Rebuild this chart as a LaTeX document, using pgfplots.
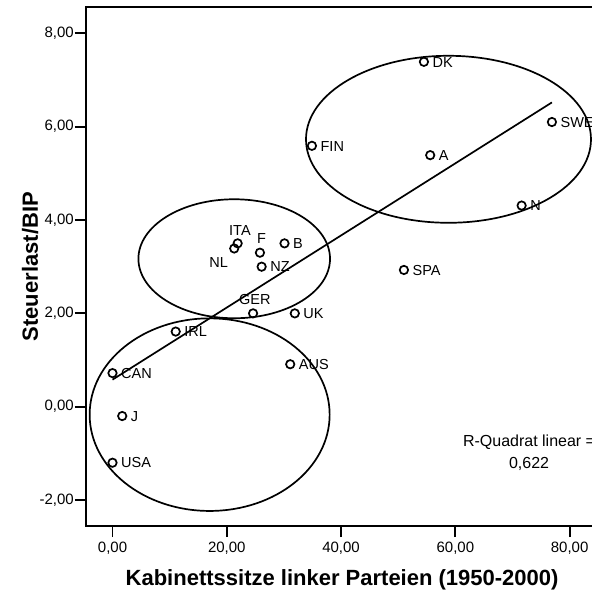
\documentclass[border=0pt]{standalone}
\usepackage{fontspec}
\setmainfont{Liberation Sans}
\usepackage{pgfplots}
\pgfplotsset{compat=1.18}
\usepackage{pgfplotstable}

\pgfplotstableread{
x y
54.5 7.39
76.9 6.10
34.9 5.59
55.6 5.39
71.6 4.31
51.0 2.93
21.9 3.50
21.3 3.39
25.8 3.30
30.1 3.50
26.1 3.00
24.6 2.00
31.9 2.00
11.06 1.61
31.1 0.91
0.0 0.72
1.7 -0.20
0.0 -1.20
}\datatable

\begin{document}
\begin{tikzpicture}[
  rl/.style={font=\fontsize{14.5}{17}\selectfont, inner sep=0pt, anchor=base west, xshift=8.5pt, yshift=-5.2pt},
  cl/.style={font=\fontsize{14.5}{17}\selectfont, inner sep=0pt, anchor=base}
]
\begin{axis}[
  scale only axis, width=512.2pt, height=518.7pt,
  xmin=-4.64, xmax=85, ymin=-2.556, ymax=8.558,
  xtick={0,20,40,60,80}, ytick={-2,0,2,4,6,8},
  tick pos=left, tick align=outside, major tick length=11pt,
  tick style={black, line width=1.8pt},
  axis line style={line width=1.8pt},
  clip=false,
  /pgf/number format/fixed,
  /pgf/number format/fixed zerofill,
  /pgf/number format/precision=2,
  /pgf/number format/use comma,
  /pgf/number format/assume math mode=true,
  ticklabel style={font=\fontsize{15}{18}\selectfont},
  xticklabel style={inner sep=1pt, yshift=-4pt},
  yticklabel style={inner sep=1pt},
  xlabel={Kabinettssitze linker Parteien (1950-2000)},
  ylabel={Steuerlast/BIP},
  xlabel style={font=\bfseries\fontsize{22}{26}\selectfont, at={(axis description cs:0.5,0)}, anchor=base, yshift=-59pt},
  ylabel style={font=\bfseries\fontsize{22}{26}\selectfont, at={(axis description cs:-0.1093,0.5)}, anchor=center, rotate=0},
]
\addplot[line width=1.7pt, black] coordinates {(0,0.58) (76.9,6.52)};
\addplot[only marks, mark=o, mark size=4.2pt, mark options={line width=1.7pt, black}] table[x=x, y=y] {\datatable};

\draw[line width=1.7pt] (axis cs:58.8,5.73) ellipse [x radius=142.5pt, y radius=83.5pt];
\draw[line width=1.7pt] (axis cs:21.3,3.17) ellipse [x radius=95.8pt, y radius=59.5pt];
\draw[line width=1.7pt] (axis cs:17.0,-0.17) ellipse [x radius=120pt, y radius=96.3pt];

\node[rl] at (axis cs:54.5,7.39) {DK};
\node[rl] at (axis cs:76.9,6.10) {SWE};
\node[rl] at (axis cs:34.9,5.59) {FIN};
\node[rl] at (axis cs:55.6,5.39) {A};
\node[rl] at (axis cs:71.6,4.31) {N};
\node[rl] at (axis cs:51.0,2.93) {SPA};
\node[cl, xshift=2.3pt, yshift=8.1pt] at (axis cs:21.9,3.50) {ITA};
\node[cl, anchor=base east, xshift=-6pt, yshift=-18.6pt] at (axis cs:21.3,3.39) {NL};
\node[cl, xshift=1.7pt, yshift=9.2pt] at (axis cs:25.8,3.30) {F};
\node[rl] at (axis cs:30.1,3.50) {B};
\node[rl] at (axis cs:26.1,3.00) {NZ};
\node[cl, xshift=1.7pt, yshift=8.8pt] at (axis cs:24.6,2.00) {GER};
\node[rl] at (axis cs:31.9,2.00) {UK};
\node[rl] at (axis cs:11.06,1.61) {IRL};
\node[rl] at (axis cs:31.1,0.91) {AUS};
\node[rl] at (axis cs:0.0,0.72) {CAN};
\node[rl] at (axis cs:1.7,-0.20) {J};
\node[rl] at (axis cs:0.0,-1.20) {USA};

\node[font=\fontsize{16}{22}\selectfont, align=center, inner sep=0pt] at (axis cs:72.9,-0.99) {R-Quadrat linear =\\0,622};
\end{axis}
\pgfresetboundingbox
\path[use as bounding box] ([shift={(-86pt,-64pt)}]current axis.south west) rectangle ([shift={(506pt,526pt)}]current axis.south west);
\end{tikzpicture}
\end{document}
